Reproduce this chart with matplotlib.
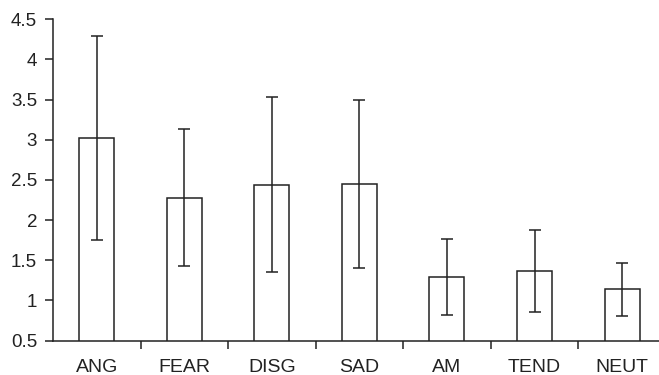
import numpy as np
import matplotlib.pyplot as plt

plt.rcParams['font.family'] = ['Liberation Sans', 'DejaVu Sans']

# Moyennes et écarts-types
categories = ['ANG', 'FEAR', 'DISG', 'SAD', 'AM', 'TEND', 'NEUT']
means = [3.02, 2.28, 2.44, 2.45, 1.29, 1.37, 1.14]
sds = [1.27, 0.85, 1.09, 1.05, 0.47, 0.51, 0.33]

ink = '#222222'

fig = plt.figure(figsize=(6.59, 3.75), dpi=100)
ax = fig.add_axes([0.0804, 0.0915, 0.93, 0.8575])

x = np.arange(len(categories))
ax.bar(x, means, width=0.4, bottom=0, color='white', edgecolor=ink, linewidth=1.1, zorder=2)
ax.errorbar(x, means, yerr=sds, fmt='none', ecolor=ink, elinewidth=1.1,
            capsize=4.3, capthick=1.1, zorder=3)

ax.set_xlim(-0.5, len(categories) - 0.5)
ax.set_ylim(0.5, 4.5)
ax.set_yticks(np.arange(0.5, 4.51, 0.5))
ax.set_yticklabels([f'{v:g}' for v in np.arange(0.5, 4.51, 0.5)])

# Étiquettes au centre, graduations entre les catégories
ax.set_xticks(x)
ax.set_xticklabels(categories)
ax.set_xticks(np.arange(0.5, len(categories) - 0.5, 1), minor=True)
ax.tick_params(axis='x', which='major', length=0, pad=13, labelsize=14, colors=ink)
ax.tick_params(axis='x', which='minor', length=6, width=1.1, color=ink, direction='out')
ax.tick_params(axis='y', length=6, width=1.1, color=ink, labelsize=13.5, labelcolor=ink, pad=5.5)

for s in ['top', 'right']:
    ax.spines[s].set_visible(False)
for s in ['left', 'bottom']:
    ax.spines[s].set_color(ink)
    ax.spines[s].set_linewidth(1.1)

fig.savefig('out.png', dpi=100)
